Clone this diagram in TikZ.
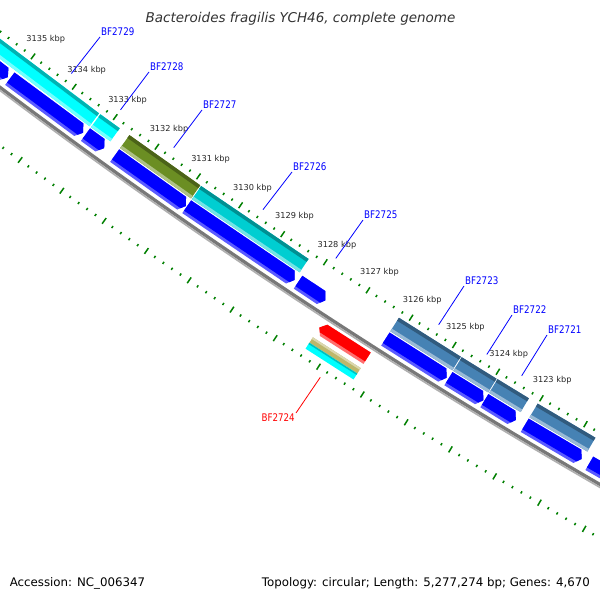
\documentclass[tikz,border=0pt]{standalone}
\usepackage{fontspec}
\setmainfont{DejaVu Sans}
\newfontfamily\genefont[FakeStretch=0.83]{DejaVu Sans}
\definecolor{tickgreen}{RGB}{0,128,0}
\definecolor{cgCyan}{RGB}{0,255,255}
\definecolor{cgOlive}{RGB}{107,142,35}
\definecolor{cgTeal}{RGB}{0,206,209}
\definecolor{cgSteel}{RGB}{70,130,180}
\definecolor{cgKhaki}{RGB}{189,183,107}
\definecolor{cgBlue}{RGB}{0,0,255}
\definecolor{cgBlueLight}{RGB}{90,90,255}
\definecolor{cgRed}{RGB}{255,0,0}
\definecolor{cgRedLight}{RGB}{255,110,110}
\definecolor{cgGray}{RGB}{120,120,120}
\definecolor{cgGrayLight}{RGB}{175,175,175}
\begin{document}
\begin{tikzpicture}[x=1pt,y=1pt,
            declare function={kang(\k)=236.07+(3129-\k)*0.504;},
            tickmark/.style={draw=tickgreen,line width=1.5pt},
            kbp label/.style={font={\fontsize{8.2}{9}\selectfont},text=black!85},
            gene label/.style={font={\genefont\fontsize{10.5}{12}\selectfont},text=cgBlue,inner sep=1pt},
            leader/.style={draw=cgBlue,line width=0.8pt}]
        \useasboundingbox (0,0) rectangle (600,600);
        \fill[white] (0,0) rectangle (600,600);
        \clip (0,0) rectangle (600,600);

        % Rings around the genome centre
        \begin{scope}[shift={(3524,5184)}]
            % Draw backbone
            \draw[cgGray,line width=3.3pt] ({kang(3137)}:5851.65) arc[start angle={kang(3137)},end angle={kang(3119)},radius=5851.65];
            \draw[cgGrayLight,line width=1.7pt] ({kang(3137)}:5854.15) arc[start angle={kang(3137)},end angle={kang(3119)},radius=5854.15];

            % Draw tick marks
            \foreach \i in {0,...,85}{
                \pgfmathsetmacro{\a}{kang(3120+0.2*\i)}
                \pgfmathtruncatemacro{\m}{mod(\i,5)}
                \ifnum\m=0
                    \draw[tickmark] (\a:5803.5) -- (\a:5810.5);
                    \draw[tickmark] (\a:5894.5) -- (\a:5901.5);
                \else
                    \draw[tickmark] (\a:5806) -- (\a:5808.5);
                    \draw[tickmark] (\a:5897) -- (\a:5899.5);
                \fi
            }
            \foreach \k in {3123,...,3135}
                \node[kbp label] at ({kang(\k)}:5786) {\k\ kbp};

            % Draw forward feature bars
            \foreach \s/\e/\c in {3136.6/3133.30/cgCyan, 3133.27/3132.80/cgCyan,
                    3132.57/3130.87/cgOlive, 3130.85/3128.31/cgTeal, 3126.20/3124.77/cgSteel,
                    3124.75/3123.95/cgSteel, 3123.93/3123.21/cgSteel, 3123.01/3121.70/cgSteel}{
                \fill[\c] ({kang(\s)}:5813.5) -- ({kang(\e)}:5813.5) -- ({kang(\e)}:5829.5) -- ({kang(\s)}:5829.5) -- cycle;
                \fill[\c!70!black] ({kang(\s)}:5813.5) -- ({kang(\e)}:5813.5) -- ({kang(\e)}:5817) -- ({kang(\s)}:5817) -- cycle;
                \fill[\c!55!white] ({kang(\s)}:5826.5) -- ({kang(\e)}:5826.5) -- ({kang(\e)}:5829.5) -- ({kang(\s)}:5829.5) -- cycle;
            }

            % Draw forward genes
            \foreach \s/\e in {3137.5/3135.15, 3135.10/3133.33, 3133.27/3132.82, 3132.57/3130.87, 3130.85/3128.31,
                    3128.23/3127.59, 3126.20/3124.79, 3124.75/3123.95, 3123.93/3123.21, 3123.01/3121.72, 3121.55/3119.5}{
                \fill[cgBlueLight] ({kang(\s)}:5831) -- ({kang(\e+0.1)}:5831) -- ({kang(\e)}:5838.75) -- ({kang(\e+0.1)}:5846.5) -- ({kang(\s)}:5846.5) -- cycle;
                \fill[cgBlue] ({kang(\s)}:5831) -- ({kang(\e+0.1)}:5831) -- ({kang(\e)}:5838.75) -- ({kang(\e+0.06)}:5843.5) -- ({kang(\s)}:5843.5) -- cycle;
            }

            % Draw reverse gene and its bars
            \fill[cgRedLight] ({kang(3127.40)}:5864.75) -- ({kang(3127.30)}:5858) -- ({kang(3126.30)}:5858) -- ({kang(3126.30)}:5871.5) -- ({kang(3127.30)}:5871.5) -- cycle;
            \fill[cgRed] ({kang(3127.40)}:5864.75) -- ({kang(3127.30)}:5858) -- ({kang(3126.30)}:5858) -- ({kang(3126.30)}:5868.5) -- ({kang(3127.34)}:5868.5) -- cycle;
            \fill[cgKhaki] ({kang(3127.40)}:5876.5) -- ({kang(3126.30)}:5876.5) -- ({kang(3126.30)}:5883) -- ({kang(3127.40)}:5883) -- cycle;
            \fill[cgKhaki!55!white] ({kang(3127.40)}:5876.5) -- ({kang(3126.30)}:5876.5) -- ({kang(3126.30)}:5878.5) -- ({kang(3127.40)}:5878.5) -- cycle;
            \fill[cgCyan] ({kang(3127.40)}:5883) -- ({kang(3126.30)}:5883) -- ({kang(3126.30)}:5890) -- ({kang(3127.40)}:5890) -- cycle;
            \fill[cgCyan!75!black] ({kang(3127.40)}:5883) -- ({kang(3126.30)}:5883) -- ({kang(3126.30)}:5884.5) -- ({kang(3127.40)}:5884.5) -- cycle;

            % Define label anchors
            \coordinate (bf2729) at ({kang(3134.2)}:5798);
            \coordinate (bf2728) at ({kang(3133.0)}:5798);
            \coordinate (bf2727) at ({kang(3131.72)}:5798);
            \coordinate (bf2726) at ({kang(3129.59)}:5798);
            \coordinate (bf2725) at ({kang(3127.87)}:5798);
            \coordinate (bf2723) at ({kang(3125.47)}:5798);
            \coordinate (bf2722) at ({kang(3124.36)}:5798);
            \coordinate (bf2721) at ({kang(3123.56)}:5798);
            \coordinate (bf2724) at ({kang(3126.86)}:5906);
        \end{scope}

        % Define labels
        \node[gene label,anchor=south west] (l2729) at (100,563) {BF2729};
        \node[gene label,anchor=south west] (l2728) at (149,528) {BF2728};
        \node[gene label,anchor=south west] (l2727) at (202,490) {BF2727};
        \node[gene label,anchor=south west] (l2726) at (292,428) {BF2726};
        \node[gene label,anchor=south west] (l2725) at (363,380) {BF2725};
        \node[gene label,anchor=south west] (l2723) at (464,314) {BF2723};
        \node[gene label,anchor=south west] (l2722) at (512,285) {BF2722};
        \node[gene label,anchor=south west] (l2721) at (547,265) {BF2721};
        \node[gene label,anchor=north east,text=cgRed] (l2724) at (296,187) {BF2724};

        % Draw leaders
        \path[leader]
            (bf2729) edge (l2729.south west)
            (bf2728) edge (l2728.south west)
            (bf2727) edge (l2727.south west)
            (bf2726) edge (l2726.south west)
            (bf2725) edge (l2725.south west)
            (bf2723) edge (l2723.south west)
            (bf2722) edge (l2722.south west)
            (bf2721) edge (l2721.south west);
        \draw[leader,draw=cgRed] (bf2724) -- (l2724.north east);

        % Title and footer
        \node[font={\fontsize{13.5}{15}\selectfont\itshape},text=black!80] (title) at (300.5,581) {Bacteroides fragilis YCH46, complete genome};
        \node[font={\fontsize{11.8}{13}\selectfont},anchor=base west,inner sep=0pt] (accession) at (9.6,13.5) {Accession: NC\_006347};
        \node[font={\fontsize{11.8}{13}\selectfont},anchor=base east,inner sep=0pt] (topology) at (590,13.5) {Topology: circular; Length: 5,277,274 bp; Genes: 4,670};
\end{tikzpicture}
\end{document}
